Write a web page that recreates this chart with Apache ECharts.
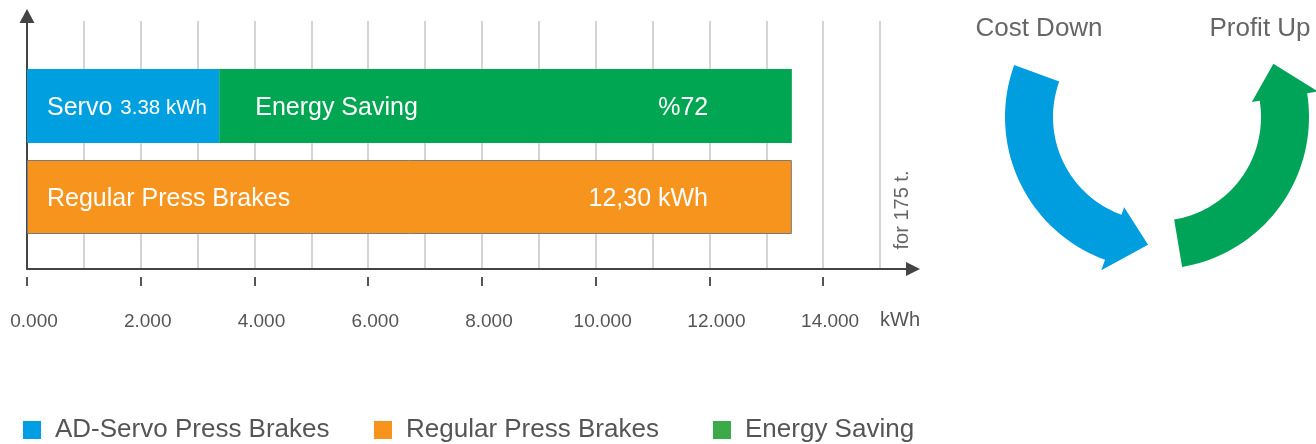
<!DOCTYPE html>
<html>
<head>
<meta charset="utf-8">
<script src="https://cdn.jsdelivr.net/npm/echarts@6/dist/echarts.min.js"></script>
<style>
html,body{margin:0;padding:0;background:#fff;}
#main{width:1316px;height:444px;}
</style>
</head>
<body>
<div id="main"></div>
<script>
// data
var categories = ['Regular Press Brakes', 'AD-Servo Press Brakes'];
var servoValues = [null, 3380];
var savingValues = [null, 10070];
var regularValues = [13450, null];
var servoText = '3.38 kWh';
var savingText = '%72';
var regularText = '12,30 kWh';
var axisMax = 15000;
var tickMax = 14000;
var tickStep = 2000;
var gridStep = 1000;

var FONT = "'Liberation Sans', Arial, Helvetica, sans-serif";
var BLUE = '#009FE0', GREEN = '#00A651', ORANGE = '#F7941D';

// curved arrow outline (decoration on the right)
function arrowPoints(cx, cy, rIn, rOut, a0, a1, aTip, fIn, fOut) {
	var pts = [], n = 40, i, a;
	var rad = function(d) { return d * Math.PI / 180; };
	var p = function(r, d) { return [cx + r * Math.cos(rad(d)), cy + r * Math.sin(rad(d))]; };
	for (i = 0; i <= n; i++) { a = a0 + (a1 - a0) * i / n; pts.push(p(rOut, a)); }
	pts.push(p(rOut + fOut, a1));
	pts.push(p((rIn + rOut) / 2, aTip));
	pts.push(p(rIn - fIn, a1));
	for (i = n; i >= 0; i--) { a = a0 + (a1 - a0) * i / n; pts.push(p(rIn, a)); }
	return pts;
}

function legendAt(left, name, color) {
	return {
		left: left, top: 412,
		icon: 'rect', itemWidth: 18, itemHeight: 18,
		selectedMode: false,
		textStyle: { fontSize: 26, color: '#555', fontFamily: FONT, padding: [0, 0, 0, 9] },
		data: [{ name: name, itemStyle: { color: color, borderWidth: 0 } }]
	};
}

var chart = echarts.init(document.getElementById('main'));

var option = {
	animation: false,
	textStyle: { fontFamily: FONT },
	grid: [
		{ left: 27, top: 16, width: 886, height: 253 },   // frame with arrows
		{ left: 27, top: 21, width: 853, height: 248 },   // vertical grid lines
		{ left: 27, top: 60.5, width: 853, height: 182 }, // bars
		{ left: 27, top: 29, width: 853 * tickMax / axisMax, height: 248 } // ticks + labels
	],
	xAxis: [
		{
			gridIndex: 0, type: 'value', min: 0, max: 1,
			axisLine: { show: true, symbol: ['none', 'triangle'], symbolSize: [14, 14], lineStyle: { color: '#444', width: 2 } },
			axisTick: { show: false }, axisLabel: { show: false }, splitLine: { show: false }
		},
		{
			gridIndex: 1, type: 'value', min: 0, max: axisMax, interval: gridStep,
			axisLine: { show: false }, axisTick: { show: false }, axisLabel: { show: false },
			splitLine: { show: true, lineStyle: { color: '#c6c6c6', width: 1.5 } }
		},
		{
			gridIndex: 2, type: 'value', min: 0, max: axisMax, show: false
		},
		{
			gridIndex: 3, type: 'value', min: 0, max: tickMax, interval: tickStep,
			axisLine: { show: false },
			axisTick: { show: true, length: 9, lineStyle: { color: '#555', width: 2 } },
			axisLabel: {
				show: true, margin: 35, color: '#555', fontSize: 19, fontFamily: FONT,
				padding: [0, 0, 0, 14],
				formatter: function(v) { return (v / 1000).toFixed(3); }
			},
			splitLine: { show: false }
		}
	],
	yAxis: [
		{
			gridIndex: 0, type: 'value', min: 0, max: 1,
			axisLine: { show: true, symbol: ['none', 'triangle'], symbolSize: [15, 14], lineStyle: { color: '#444', width: 2 } },
			axisTick: { show: false }, axisLabel: { show: false }, splitLine: { show: false }
		},
		{ gridIndex: 1, show: false, type: 'value', min: 0, max: 1 },
		{ gridIndex: 2, show: false, type: 'category', data: categories },
		{ gridIndex: 3, show: false, type: 'value', min: 0, max: 1 }
	],
	legend: [
		legendAt(18, 'AD-Servo Press Brakes', '#009FE3'),
		legendAt(369, 'Regular Press Brakes', '#F7941D'),
		legendAt(708, 'Energy Saving', '#3DAA49')
	],
	series: [
		{
			name: 'AD-Servo Press Brakes', type: 'bar', xAxisIndex: 2, yAxisIndex: 2,
			stack: 'all', barWidth: 74, data: servoValues,
			itemStyle: { color: BLUE },
			label: {
				show: true, position: 'insideLeft', distance: 20, offset: [0, 2],
				formatter: '{a|Servo}{b|' + servoText + '}',
				rich: {
					a: { fontSize: 25, color: '#fff', fontFamily: FONT },
					b: { fontSize: 20.5, color: '#fff', fontFamily: FONT, padding: [0, 0, 0, 8] }
				}
			}
		},
		{
			name: 'Energy Saving', type: 'bar', xAxisIndex: 2, yAxisIndex: 2,
			stack: 'all', barWidth: 74, data: savingValues,
			itemStyle: { color: GREEN },
			label: {
				show: true, position: 'insideLeft', distance: 36, offset: [0, 2],
				formatter: '{a|Energy Saving}{b|' + savingText + '}',
				rich: {
					a: { fontSize: 25, color: '#fff', width: 400, align: 'left', fontFamily: FONT },
					b: { fontSize: 25, color: '#fff', width: 53, align: 'right', fontFamily: FONT }
				}
			}
		},
		{
			name: 'Regular Press Brakes', type: 'bar', xAxisIndex: 2, yAxisIndex: 2,
			stack: 'all', barWidth: 74, data: regularValues,
			itemStyle: { color: ORANGE, borderColor: '#7a7a7a', borderWidth: 1 },
			label: {
				show: true, position: 'insideLeft', distance: 20, offset: [0, 2],
				formatter: '{a|Regular Press Brakes}{b|' + regularText + '}',
				rich: {
					a: { fontSize: 25, color: '#fff', width: 531, align: 'left', fontFamily: FONT },
					b: { fontSize: 25, color: '#fff', width: 130, align: 'right', fontFamily: FONT }
				}
			}
		}
	],
	graphic: [
		{ type: 'text', x: 900, y: 320, style: { text: 'kWh', fontSize: 20, fill: '#555', fontFamily: FONT, align: 'center', verticalAlign: 'middle' } },
		{ type: 'text', x: 902, y: 210, rotation: Math.PI / 2,
		  style: { text: 'for 175 t.', fontSize: 20, fill: '#666', fontFamily: FONT, align: 'center', verticalAlign: 'middle' } },
		{ type: 'text', x: 1039, y: 29, style: { text: 'Cost Down', fontSize: 26, fill: '#666', fontFamily: FONT, align: 'center', verticalAlign: 'middle' } },
		{ type: 'text', x: 1260, y: 29, style: { text: 'Profit Up', fontSize: 26, fill: '#666', fontFamily: FONT, align: 'center', verticalAlign: 'middle' } },
		{ type: 'polygon', shape: { points: arrowPoints(1157, 117, 104, 152, 200, 110, 94, 8, 11) }, style: { fill: '#009EDF' } },
		{ type: 'polygon', shape: { points: arrowPoints(1157, 117, 104, 152, 80.5, -9, -24.6, 8, 11) }, style: { fill: '#00A459' } }
	]
};

chart.setOption(option);
</script>
</body>
</html>
